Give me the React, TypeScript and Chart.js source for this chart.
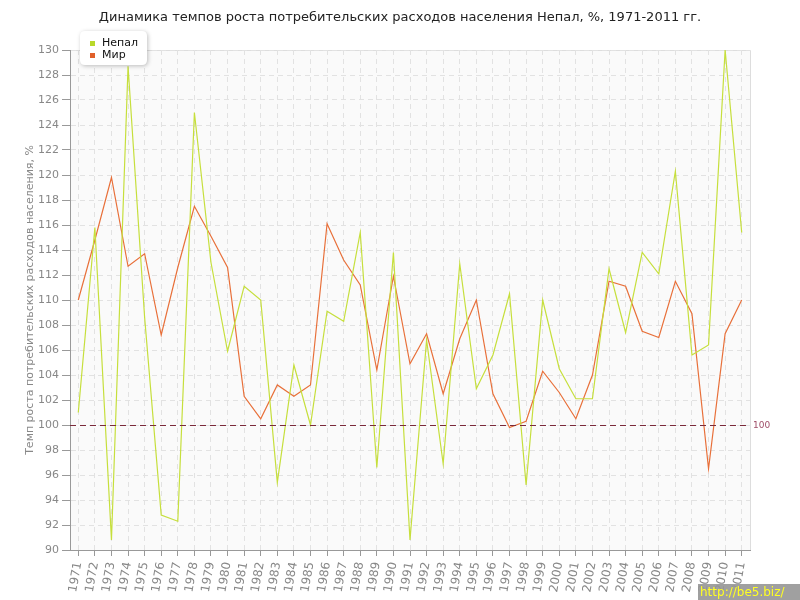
import React, { useEffect, useRef } from "react";
import { Chart, registerables } from "chart.js";

Chart.register(...registerables);

const years: string[] = [
  "1971","1972","1973","1974","1975","1976","1977","1978","1979","1980",
  "1981","1982","1983","1984","1985","1986","1987","1988","1989","1990",
  "1991","1992","1993","1994","1995","1996","1997","1998","1999","2000",
  "2001","2002","2003","2004","2005","2006","2007","2008","2009","2010","2011",
];

const nepal: number[] = [
  101.0, 115.8, 90.8, 128.7, 108.6, 92.8, 92.3, 125.0, 113.0, 105.9,
  111.1, 110.0, 95.4, 104.8, 100.0, 109.1, 108.3, 115.4, 96.6, 113.8,
  90.8, 106.8, 96.9, 112.9, 102.9, 105.6, 110.5, 95.2, 110.0, 104.5,
  102.1, 102.1, 112.5, 107.4, 113.8, 112.1, 120.3, 105.6, 106.4, 130.0, 115.4,
];

const world: number[] = [
  110.0, 114.8, 119.8, 112.7, 113.7, 107.2, 112.6, 117.5, 115.1, 112.6,
  102.3, 100.5, 103.2, 102.3, 103.2, 116.1, 113.2, 111.2, 104.4, 111.9,
  104.9, 107.3, 102.5, 106.9, 110.0, 102.5, 99.8, 100.3, 104.3, 102.6,
  100.5, 104.0, 111.5, 111.1, 107.5, 107.0, 111.5, 108.9, 96.5, 107.3, 110.0,
];

const seriesNames: string[] = ["Непал", "Мир"];
const seriesColors: string[] = ["#c6df3c", "#e8703a"];
const legendColors: string[] = ["#b8d82a", "#e0602a"];

const titleText = "Динамика темпов роста потребительских расходов населения Непал, %, 1971-2011 гг.";
const yTitle = "Темп роста потребительских расходов населения, %";
const refValue = 100;
const yMin = 90;
const yMax = 130;
const yStep = 2;
const watermark = "http://be5.biz/";

const FONT = "'DejaVu Sans', sans-serif";

const decorPlugin = {
  id: "decor",
  beforeDraw(chart: any) {
    const { ctx, chartArea: a } = chart;
    ctx.save();
    ctx.fillStyle = "#ffffff";
    ctx.fillRect(0, 0, chart.width, chart.height);
    ctx.fillStyle = "#fafafa";
    ctx.fillRect(a.left, a.top, a.right - a.left, a.bottom - a.top);
    ctx.strokeStyle = "#dddddd";
    ctx.lineWidth = 1;
    ctx.beginPath();
    ctx.moveTo(a.left, Math.round(a.top) + 0.5);
    ctx.lineTo(Math.round(a.right) + 0.5, Math.round(a.top) + 0.5);
    ctx.lineTo(Math.round(a.right) + 0.5, a.bottom);
    ctx.stroke();
    ctx.restore();
  },
  afterDatasetsDraw(chart: any) {
    const { ctx, chartArea: a, scales } = chart;
    const y = Math.round(scales.y.getPixelForValue(refValue)) + 0.5;
    ctx.save();
    ctx.strokeStyle = "#7a2a3a";
    ctx.lineWidth = 1;
    ctx.setLineDash([6, 4]);
    ctx.beginPath();
    ctx.moveTo(a.left, y);
    ctx.lineTo(a.right, y);
    ctx.stroke();
    ctx.setLineDash([]);
    ctx.fillStyle = "#a0506a";
    ctx.font = `9px ${FONT}`;
    ctx.textBaseline = "middle";
    ctx.textAlign = "left";
    ctx.fillText(String(refValue), a.right + 3, y);
    ctx.restore();
  },
  afterDraw(chart: any) {
    const { ctx } = chart;
    ctx.save();
    // title
    ctx.fillStyle = "#222222";
    ctx.font = `13px ${FONT}`;
    ctx.textAlign = "center";
    ctx.textBaseline = "middle";
    ctx.fillText(titleText, 400, 18);

    // legend box
    const bx = 80, by = 31, bw = 67, bh = 34, r = 5;
    ctx.save();
    ctx.shadowColor = "rgba(0,0,0,0.25)";
    ctx.shadowBlur = 4;
    ctx.shadowOffsetX = 1;
    ctx.shadowOffsetY = 1;
    ctx.fillStyle = "#ffffff";
    ctx.beginPath();
    ctx.moveTo(bx + r, by);
    ctx.lineTo(bx + bw - r, by);
    ctx.quadraticCurveTo(bx + bw, by, bx + bw, by + r);
    ctx.lineTo(bx + bw, by + bh - r);
    ctx.quadraticCurveTo(bx + bw, by + bh, bx + bw - r, by + bh);
    ctx.lineTo(bx + r, by + bh);
    ctx.quadraticCurveTo(bx, by + bh, bx, by + bh - r);
    ctx.lineTo(bx, by + r);
    ctx.quadraticCurveTo(bx, by, bx + r, by);
    ctx.closePath();
    ctx.fill();
    ctx.restore();

    ctx.font = `11px ${FONT}`;
    ctx.textAlign = "left";
    ctx.textBaseline = "middle";
    seriesNames.forEach((name, i) => {
      const cy = 43.5 + i * 11.7;
      ctx.fillStyle = legendColors[i];
      ctx.fillRect(90, Math.round(cy - 2.5), 5, 5);
      ctx.fillStyle = "#111111";
      ctx.fillText(name, 102, cy);
    });

    // watermark
    ctx.fillStyle = "rgba(150,150,150,0.9)";
    ctx.fillRect(698, 584, 102, 16);
    ctx.fillStyle = "#ffff22";
    ctx.font = `12px ${FONT}`;
    ctx.textAlign = "left";
    ctx.textBaseline = "middle";
    ctx.fillText(watermark, 700, 593);
    ctx.restore();
  },
};

export default function App() {
  const ref = useRef<HTMLCanvasElement>(null);

  useEffect(() => {
    if (!ref.current) return;
    const chart = new Chart(ref.current, {
      type: "line",
      data: {
        labels: years,
        datasets: [
          {
            label: seriesNames[0],
            data: nepal,
            borderColor: seriesColors[0],
            backgroundColor: seriesColors[0],
            borderWidth: 1.2,
            pointRadius: 0,
            tension: 0,
            fill: false,
          },
          {
            label: seriesNames[1],
            data: world,
            borderColor: seriesColors[1],
            backgroundColor: seriesColors[1],
            borderWidth: 1.2,
            pointRadius: 0,
            tension: 0,
            fill: false,
          },
        ],
      },
      options: {
        responsive: false,
        animation: false,
        layout: { padding: { left: 20, right: 50, top: 50, bottom: 0 } },
        plugins: {
          legend: { display: false },
          title: { display: false },
          tooltip: { enabled: false },
        },
        scales: {
          x: {
            type: "category",
            offset: true,
            afterFit: (s: any) => {
              s.height = 50;
            },
            grid: {
              color: "#e2e2e2",
              tickColor: "#999999",
              tickLength: 6,
              lineWidth: 1,
            },
            border: { color: "#999999", dash: [5, 4], width: 1 },
            ticks: {
              autoSkip: false,
              minRotation: 80,
              maxRotation: 80,
              color: "#888888",
              font: { family: FONT, size: 12 },
              padding: 5,
            },
          },
          y: {
            min: yMin,
            max: yMax,
            afterFit: (s: any) => {
              s.width = 50;
            },
            grid: {
              color: "#e2e2e2",
              tickColor: "#999999",
              tickLength: 8,
              lineWidth: 1,
            },
            border: { color: "#999999", dash: [5, 4], width: 1 },
            ticks: {
              stepSize: yStep,
              color: "#888888",
              font: { family: FONT, size: 11 },
              padding: 3,
            },
            title: {
              display: true,
              text: yTitle,
              color: "#888888",
              font: { family: FONT, size: 11 },
              padding: { top: 4, bottom: 0 },
            },
          },
        },
      },
      plugins: [decorPlugin],
    });
    return () => chart.destroy();
  }, []);

  return (
    <div style={{ position: "fixed", left: 0, top: 0, width: 800, height: 600 }}>
      <canvas ref={ref} width={800} height={600} style={{ width: 800, height: 600 }} />
    </div>
  );
}
